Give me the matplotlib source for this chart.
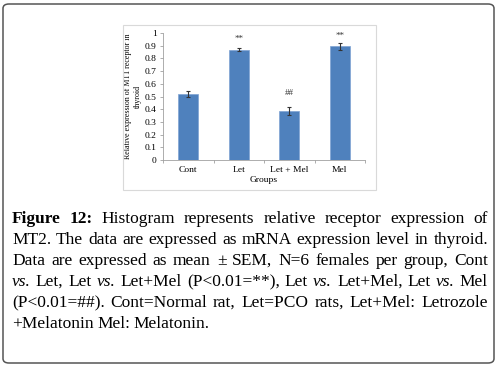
import numpy as np
import matplotlib
matplotlib.use('Agg')
import matplotlib.pyplot as plt
from matplotlib.patches import FancyBboxPatch, Rectangle

plt.rcParams['font.family'] = ['Liberation Serif', 'DejaVu Serif']

groups = ['Cont', 'Let', 'Let + Mel', 'Mel']
means = [0.52, 0.87, 0.385, 0.895]
sems = [0.02, 0.012, 0.03, 0.03]
marks = ['', '**', '##', '**']
mark_y = [0, 0.955, 0.53, 0.975]
yticks = [0, 0.1, 0.2, 0.3, 0.4, 0.5, 0.6, 0.7, 0.8, 0.9, 1]
ytick_labels = ['0', '0.1', '0.2', '0.3', '0.4', '0.5', '0.6', '0.7', '0.8', '0.9', '1']

caption = [
    [('Figure', 'bold'), ('12:', 'bold'), ('Histogram', ''), ('represents', ''), ('relative', ''),
     ('receptor', ''), ('expression', ''), ('of', '')],
    [(w, '') for w in 'MT2. The data are expressed as mRNA expression level in thyroid.'.split()],
    [(w, '') for w in 'Data are expressed as mean \u00b1 SEM, N=6 females per group, Cont'.split()],
    [('vs.', 'italic'), ('Let,', ''), ('Let', ''), ('vs.', 'italic'), ('Let+Mel', ''),
     ('(P<0.01=**),', ''), ('Let', ''), ('vs.', 'italic'), ('Let+Mel,', ''), ('Let', ''),
     ('vs.', 'italic'), ('Mel', '')],
    [(w, '') for w in '(P<0.01=##). Cont=Normal rat, Let=PCO rats, Let+Mel: Letrozole'.split()],
    [(w, '') for w in '+Melatonin Mel: Melatonin.'.split()],
]

W, H = 499, 366
fig = plt.figure(figsize=(W / 100, H / 100), dpi=100)

# outer frame and chart frame
fig.patches.append(FancyBboxPatch((3 / W, 3 / H), 491 / W, 359 / H,
                                  boxstyle='round,pad=0,rounding_size=0.012',
                                  transform=fig.transFigure, fill=False,
                                  edgecolor='#555555', lw=1.1))
fig.patches.append(Rectangle((123 / W, 1 - 190 / H), 253 / W, 165 / H,
                             transform=fig.transFigure, fill=False,
                             edgecolor='#d9d9d9', lw=0.8))

ax = fig.add_axes([163 / W, 1 - 160 / H, 202 / W, 127 / H])
x = np.arange(len(groups))
ax.bar(x, means, width=0.4, color='#4f81bd', edgecolor='#7ea3d3', lw=0.5)
ax.errorbar(x, means, yerr=sems, fmt='none', ecolor='#333333', elinewidth=0.8,
            capsize=1.5, capthick=0.8)
for xi, m, my in zip(x, marks, mark_y):
    if m:
        ax.text(xi, my, m, ha='center', va='center', fontsize=6.5, color='#333333')

ax.set_xlim(-0.5, len(groups) - 0.5)
ax.set_ylim(0, 1)
ax.set_yticks(yticks)
ax.set_yticklabels(ytick_labels)
ax.set_xticks(x)
ax.set_xticklabels(groups)
ax.set_xticks(np.arange(-0.5, len(groups)), minor=True)
ax.tick_params(axis='x', which='major', length=0, labelsize=6.8, pad=4)
ax.tick_params(axis='x', which='minor', length=2.5, color='#a0a0a0', width=0.6)
ax.tick_params(axis='y', length=2.5, color='#a0a0a0', width=0.6, labelsize=6.8, pad=2)
for s in ['top', 'right']:
    ax.spines[s].set_visible(False)
for s in ['left', 'bottom']:
    ax.spines[s].set_color('#a0a0a0')
    ax.spines[s].set_linewidth(0.6)
ax.set_xlabel('Groups', fontsize=6.8, labelpad=2)
ax.set_ylabel('Relative expression of MT1 receptor in\nthyroid', fontsize=5.8,
              labelpad=2, linespacing=1.3)

# justified caption
renderer = fig.canvas.get_renderer()
left, right = 12, 488
base = 223
for i, line in enumerate(caption):
    texts = []
    for w, style in line:
        t = fig.text(0, 0, w, fontsize=12.5, va='baseline', ha='left',
                     fontweight='bold' if style == 'bold' else 'normal',
                     fontstyle='italic' if style == 'italic' else 'normal',
                     transform=None)
        texts.append(t)
    widths = [t.get_window_extent(renderer).width for t in texts]
    if i < len(caption) - 1:
        gap = (right - left - sum(widths)) / (len(texts) - 1)
    else:
        gap = 3.5
    xpos = left
    y = H - (base + 21 * i)
    for t, wd in zip(texts, widths):
        t.set_position((xpos, y))
        xpos += wd + gap

fig.savefig('out.png', dpi=100)
